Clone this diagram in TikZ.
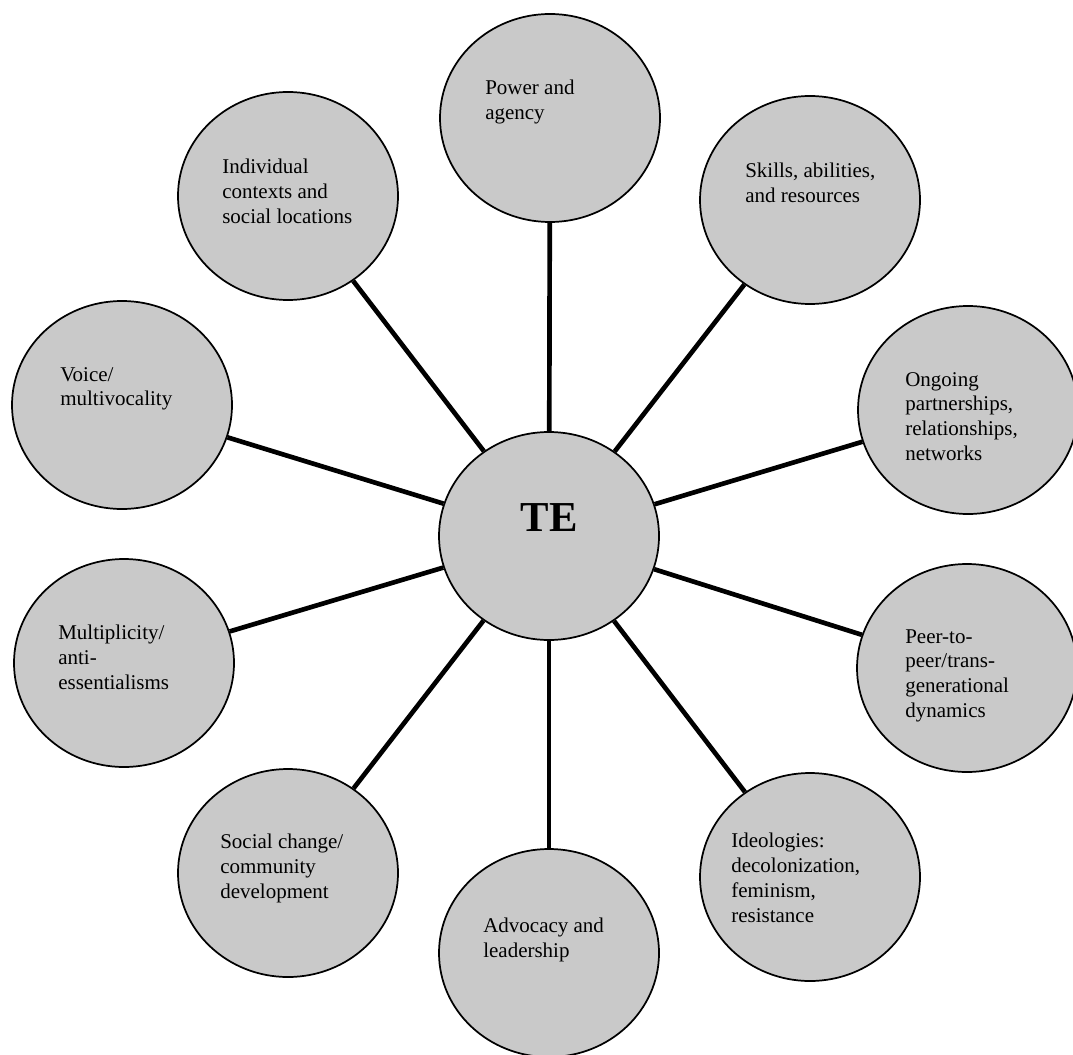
\documentclass[tikz,border=0pt]{standalone}
\usepackage{fontspec}
\setmainfont{Liberation Serif}
\usetikzlibrary{shapes.geometric}
\tikzset{
  bubble/.style={ellipse, draw=black, line width=1.3pt, fill=black!21,
    minimum width=165pt, minimum height=156pt, inner sep=0pt},
  lbl/.style={anchor=north west, align=left, inner sep=0pt,
    font=\fontsize{15.75}{18.6}\selectfont},
  spoke/.style={line width=3.5pt, black}
}
\begin{document}
\begin{tikzpicture}[x=0.75pt, y=-0.75pt]
\useasboundingbox (0,0) rectangle (1073,1055);
\fill[white] (0,0) rectangle (1073,1055);

\node[bubble] (te)  at (549,536) {};
\node[bubble] (pow) at (550,118) {};
\node[bubble] (ind) at (288,196) {};
\node[bubble] (ski) at (810,200) {};
\node[bubble] (voi) at (122,405) {};
\node[bubble] (ong) at (968,410) {};
\node[bubble] (mul) at (124,663) {};
\node[bubble] (pee) at (967,668) {};
\node[bubble] (soc) at (288,873) {};
\node[bubble] (adv) at (549,953) {};
\node[bubble] (ide) at (810,877) {};

\foreach \n in {pow,ind,ski,voi,ong,mul,pee,soc,adv,ide}
  \draw[spoke] (te) -- (\n);

\node[font=\fontsize{32}{36}\selectfont\bfseries] (tet) at (549,518) {TE};

\node[lbl] (powt) at (485,80)  {Power and\\agency};
\node[lbl] (indt) at (222,159) {Individual\\contexts and\\social locations};
\node[lbl] (skit) at (745,163) {Skills, abilities,\\and resources};
\node[lbl] (voit) at (60,367)  {Voice/\\multivocality};
\node[lbl] (ongt) at (905,372) {Ongoing\\partnerships,\\relationships,\\networks};
\node[lbl] (mult) at (58,625)  {Multiplicity/\\anti-\\essentialisms};
\node[lbl] (peet) at (905,629) {Peer-to-\\peer/trans-\\generational\\dynamics};
\node[lbl] (soct) at (220,834) {Social change/\\community\\development};
\node[lbl] (advt) at (483,918) {Advocacy and\\leadership};
\node[lbl] (idet) at (731,833) {Ideologies:\\decolonization,\\feminism,\\resistance};
\end{tikzpicture}
\end{document}
